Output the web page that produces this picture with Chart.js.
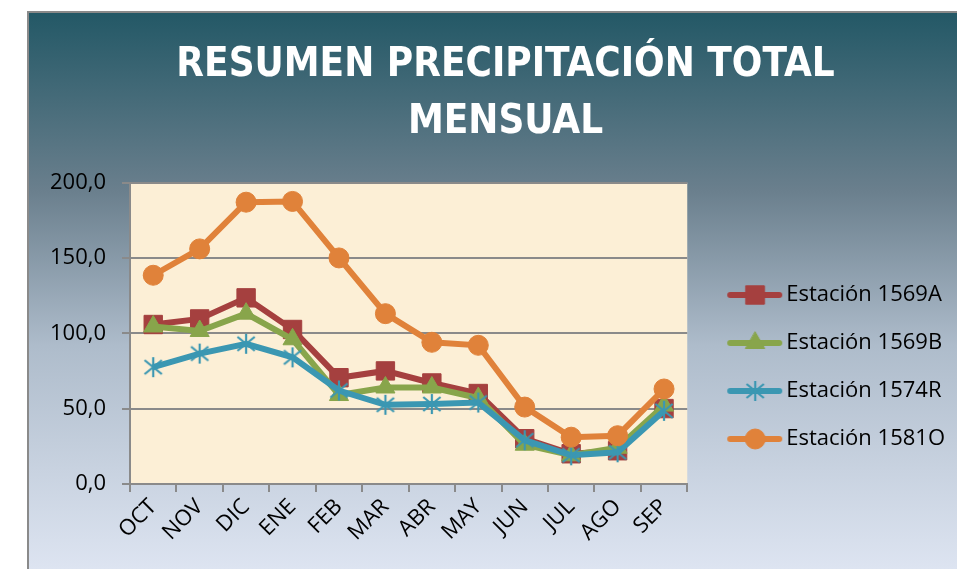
<!DOCTYPE html>
<html><head><meta charset="utf-8">
<script src="https://cdn.jsdelivr.net/npm/chart.js@4.4.1/dist/chart.umd.min.js"></script>
<style>html,body{margin:0;padding:0;background:#fff}#wrap{width:957px;height:569px}</style>
</head><body><div id="wrap"><canvas id="c" width="957" height="569"></canvas></div>
<script>
const categories = ['OCT','NOV','DIC','ENE','FEB','MAR','ABR','MAY','JUN','JUL','AGO','SEP'];
const est1569A = [105.8, 109.5, 123.5, 102.5, 70.5, 75.0, 67.0, 60.0, 30.0, 20.0, 22.0, 50.0];
const est1569B = [104.5, 101.5, 113.0, 96.0, 59.0, 64.0, 64.0, 57.0, 26.0, 19.0, 24.0, 52.0];
const est1574R = [77.5, 86.5, 93.0, 84.0, 62.0, 52.5, 53.0, 54.0, 29.0, 19.0, 21.0, 48.5];
const est1581O = [138.5, 156.0, 187.0, 187.5, 150.0, 113.0, 94.0, 92.0, 51.0, 31.0, 32.0, 63.0];
const seriesNames = ['Estación 1569A','Estación 1569B','Estación 1574R','Estación 1581O'];
const yTicks = [0, 50, 100, 150, 200];
const titleLines = ['RESUMEN PRECIPITACIÓN TOTAL','MENSUAL'];

const colors = ['#a5403f','#88a54b','#3b97b2','#e0823a'];

function asterisk(color){
  const cv = document.createElement('canvas');
  cv.width = 22; cv.height = 22;
  const g = cv.getContext('2d');
  g.strokeStyle = color; g.lineWidth = 2.2;
  const c = 11, r = 10;
  g.beginPath();
  g.moveTo(c, c - r); g.lineTo(c, c + r);
  const dx = r * Math.cos(Math.PI/6), dy = r * Math.sin(Math.PI/6);
  g.moveTo(c - dx, c - dy - 2); g.lineTo(c + dx, c + dy + 2);
  g.moveTo(c - dx, c + dy + 2); g.lineTo(c + dx, c - dy - 2);
  g.stroke();
  return cv;
}
const starImg = asterisk(colors[2]);
const styles = ['rect','triangle',starImg,'circle'];
const radii = [13, 11, 10, 10];

function legendImg(i){
  const cv = document.createElement('canvas');
  cv.width = 80; cv.height = 24;
  const g = cv.getContext('2d');
  g.strokeStyle = colors[i]; g.fillStyle = colors[i];
  g.lineWidth = 6; g.lineCap = 'round';
  g.beginPath(); g.moveTo(26,12); g.lineTo(75,12); g.stroke();
  if (i === 2) { g.drawImage(starImg, 51-11, 12-11); }
  else {
    g.lineWidth = 1;
    Chart.helpers.drawPoint(g, {pointStyle: styles[i], radius: radii[i], rotation: 0, borderWidth: 1}, 51, 12);
  }
  return cv;
}

const bgPlugin = {
  id: 'bg',
  afterLayout(chart){
    const lg = chart.legend;
    if (lg) { lg.top += 87; lg.bottom += 87; lg.right = chart.width; lg.width = lg.right - lg.left; }
    const tb = chart.titleBlock;
    if (tb) { tb.left += 36; tb.right += 36; }
  },
  beforeDraw(chart){
    const {ctx, chartArea: a, width, height} = chart;
    ctx.save();
    ctx.fillStyle = '#ffffff'; ctx.fillRect(0,0,width,height);
    const gr = ctx.createLinearGradient(0, 12, 0, height);
    gr.addColorStop(0, '#235866');
    gr.addColorStop(0.32, '#6a7f8d');
    gr.addColorStop(0.6, '#aebccb');
    gr.addColorStop(1, '#dde4f1');
    ctx.fillStyle = gr; ctx.fillRect(28, 12, width-28, height-12);
    ctx.strokeStyle = '#8a8a8a'; ctx.lineWidth = 2;
    ctx.beginPath(); ctx.moveTo(28, height); ctx.lineTo(28, 12); ctx.lineTo(width, 12); ctx.stroke();
    ctx.fillStyle = '#fcefd6';
    ctx.fillRect(a.left, a.top, a.right - a.left, a.bottom - a.top);
    ctx.restore();
  }
};

const makeDs = (i, data, order) => ({
  label: seriesNames[i], data,
  borderColor: colors[i], backgroundColor: colors[i],
  borderWidth: 6, pointStyle: styles[i], pointRadius: radii[i],
  pointBorderWidth: 1, pointBorderColor: colors[i], pointBackgroundColor: colors[i],
  tension: 0, order
});

new Chart(document.getElementById('c'), {
  type: 'line',
  data: {
    labels: categories,
    datasets: [makeDs(0, est1569A, 4), makeDs(1, est1569B, 3), makeDs(2, est1574R, 2), makeDs(3, est1581O, 1)]
  },
  plugins: [bgPlugin],
  options: {
    responsive: false, animation: false, devicePixelRatio: 1,
    layout: { padding: { left: 34, right: 52, top: 12, bottom: 21 } },
    plugins: {
      tooltip: { enabled: false },
      title: {
        display: true, text: titleLines, color: '#ffffff',
        font: { family: "'Liberation Sans Narrow','DejaVu Sans Condensed',sans-serif", size: 40, weight: 'bold', lineHeight: 1.42 },
        padding: { top: 25, bottom: 32 }
      },
      legend: {
        position: 'right', align: 'center',
        labels: {
          sort: (a, b) => a.datasetIndex - b.datasetIndex,
          color: '#000', usePointStyle: true, pointStyleWidth: 62, boxHeight: 20,
          font: { family: "'Open Sans',sans-serif", size: 22 }, padding: 26,
          generateLabels(chart){
            const items = Chart.defaults.plugins.legend.labels.generateLabels(chart);
            return items.map(it => Object.assign(it, { pointStyle: legendImg(it.datasetIndex), lineWidth: 0 }));
          }
        }
      }
    },
    scales: {
      x: {
        type: 'category', offset: true,
        grid: { offset: true, drawOnChartArea: false, drawTicks: true, tickLength: 8, color: '#8a8a8a', lineWidth: 2 },
        border: { display: true, color: '#8a8a8a', width: 2 },
        ticks: { color: '#000', maxRotation: 45, minRotation: 45, padding: 2, font: { family: "'Open Sans',sans-serif", size: 22 } }
      },
      y: {
        min: 0, max: 200,
        afterBuildTicks(axis){ axis.ticks = yTicks.map(v => ({ value: v })); },
        grid: { color: '#8a8a8a', lineWidth: 2, tickLength: 8, drawTicks: true },
        border: { display: true, color: '#8a8a8a', width: 2 },
        ticks: { color: '#000', padding: 16, font: { family: "'Open Sans',sans-serif", size: 22 },
          callback: v => Number(v).toFixed(1).replace('.', ',') }
      }
    }
  }
});
</script></body></html>
